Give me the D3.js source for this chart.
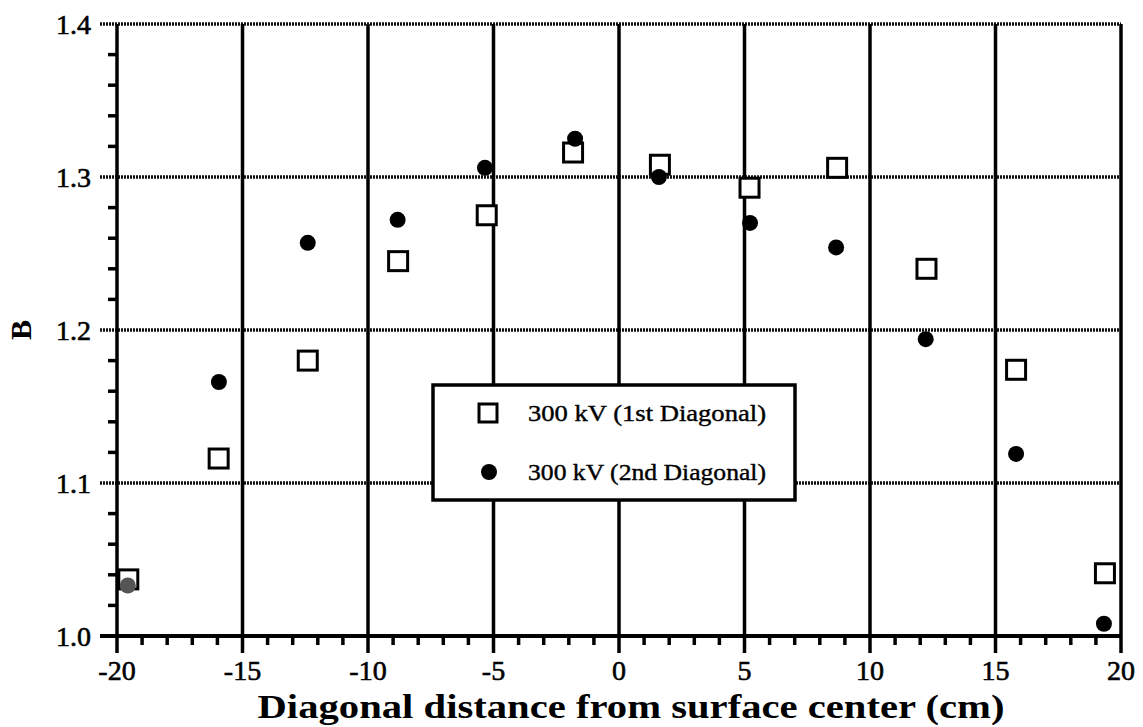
<!DOCTYPE html>
<html>
<head>
<meta charset="utf-8">
<script src="https://cdn.jsdelivr.net/npm/d3@7"></script>
<style>
  body { margin: 0; background: #fff; }
  svg text { font-family: "Liberation Serif", "Times New Roman", Times, serif; }
</style>
</head>
<body>
<div id="chart"></div>
<script>
const xTicks = [-20, -15, -10, -5, 0, 5, 10, 15, 20]
const yTicks = [1.0, 1.1, 1.2, 1.3, 1.4]

// 300 kV (1st Diagonal)
const diag1X = [-19.55, -15.95, -12.4, -8.8, -5.27, -1.83, 1.63, 5.2, 8.69, 12.25, 15.82, 19.36]
const diag1B = [1.037, 1.116, 1.180, 1.245, 1.275, 1.316, 1.308, 1.293, 1.306, 1.240, 1.174, 1.041]

// 300 kV (2nd Diagonal)
const diag2X = [-19.57, -15.94, -12.4, -8.82, -5.34, -1.75, 1.59, 5.22, 8.65, 12.22, 15.82, 19.32]
const diag2B = [1.033, 1.166, 1.257, 1.272, 1.306, 1.325, 1.300, 1.270, 1.254, 1.194, 1.119, 1.008]

const legendLabels = ['300 kV (1st Diagonal)', '300 kV (2nd Diagonal)']

const width = 1143, height = 727
const chart = {left: 117, right: 1121, top: 24, bottom: 636}
const serif = 'Liberation Serif, Times New Roman, Times, serif'

const svg = d3.select('#chart').append('svg')
  .attr('width', width)
  .attr('height', height)

const x = d3.scaleLinear().domain([-20, 20]).range([chart.left, chart.right])
const y = d3.scaleLinear().domain([1.0, 1.4]).range([chart.bottom, chart.top])

const minorX = d3.range(-20, 21, 1).filter(v => v % 5 !== 0)
const minorY = d3.range(0, 41, 2).map(v => 1 + v / 100).filter((v, i) => i % 5 !== 0)

// horizontal grid (dotted look)
svg.append('g')
  .selectAll('line')
  .data(yTicks)
  .enter()
    .append('line')
    .attr('x1', chart.left - 17)
    .attr('x2', chart.right)
    .attr('y1', d => y(d))
    .attr('y2', d => y(d))
    .attr('stroke', '#111')
    .attr('stroke-width', 3.5)
    .attr('stroke-dasharray', '2,1')

// vertical grid
svg.append('g')
  .selectAll('line')
  .data(xTicks)
  .enter()
    .append('line')
    .attr('x1', d => x(d))
    .attr('x2', d => x(d))
    .attr('y1', chart.top)
    .attr('y2', chart.bottom + 17)
    .attr('stroke', '#000')
    .attr('stroke-width', 3.5)

// bottom axis line
svg.append('line')
  .attr('x1', chart.left - 17).attr('x2', chart.right)
  .attr('y1', chart.bottom).attr('y2', chart.bottom)
  .attr('stroke', '#000').attr('stroke-width', 4)

// minor ticks
svg.append('g')
  .selectAll('line')
  .data(minorX)
  .enter()
    .append('line')
    .attr('x1', d => x(d))
    .attr('x2', d => x(d))
    .attr('y1', chart.bottom)
    .attr('y2', chart.bottom + 9)
    .attr('stroke', '#000')
    .attr('stroke-width', 3.5)

svg.append('g')
  .selectAll('line')
  .data(minorY)
  .enter()
    .append('line')
    .attr('x1', chart.left - 9)
    .attr('x2', chart.left)
    .attr('y1', d => y(d))
    .attr('y2', d => y(d))
    .attr('stroke', '#000')
    .attr('stroke-width', 3.5)

// tick labels
svg.append('g')
  .selectAll('text')
  .data(xTicks)
  .enter()
    .append('text')
    .attr('x', d => x(d))
    .attr('y', chart.bottom + 44)
    .attr('text-anchor', 'middle')
    .attr('font-family', serif)
    .attr('font-size', 28)
    .attr('stroke', '#000')
    .attr('stroke-width', 0.6)
    .text(d => d)

svg.append('g')
  .selectAll('text')
  .data(yTicks)
  .enter()
    .append('text')
    .attr('x', chart.left - 26)
    .attr('y', d => y(d) + 10)
    .attr('text-anchor', 'end')
    .attr('font-family', serif)
    .attr('font-size', 28)
    .attr('stroke', '#000')
    .attr('stroke-width', 0.6)
    .text(d => d.toFixed(1))

// axis titles
svg.append('text')
  .attr('x', 631)
  .attr('y', 718)
  .attr('text-anchor', 'middle')
  .attr('font-family', serif)
  .attr('font-size', 33)
  .attr('font-weight', 'bold')
  .attr('textLength', 747)
  .attr('lengthAdjust', 'spacingAndGlyphs')
  .text('Diagonal distance from surface center (cm)')

svg.append('text')
  .attr('transform', 'translate(31,330) rotate(-90)')
  .attr('text-anchor', 'middle')
  .attr('font-family', serif)
  .attr('font-size', 30)
  .attr('font-weight', 'bold')
  .text('B')

// data points
const sq = 19
svg.append('g')
  .selectAll('rect')
  .data(diag1X.map((v, i) => ({x: v, b: diag1B[i]})))
  .enter()
    .append('rect')
    .attr('x', d => x(d.x) - sq / 2)
    .attr('y', d => y(d.b) - sq / 2)
    .attr('width', sq)
    .attr('height', sq)
    .attr('fill', '#fff')
    .attr('stroke', '#000')
    .attr('stroke-width', 3)

svg.append('g')
  .selectAll('circle')
  .data(diag2X.map((v, i) => ({x: v, b: diag2B[i]})))
  .enter()
    .append('circle')
    .attr('cx', d => x(d.x))
    .attr('cy', d => y(d.b))
    .attr('r', 8)
    .attr('fill', (d, i) => i === 0 ? '#555' : '#000')

// legend
const legend = svg.append('g')
legend.append('rect')
  .attr('x', 433).attr('y', 385)
  .attr('width', 362).attr('height', 115)
  .attr('fill', '#fff')
  .attr('stroke', '#000')
  .attr('stroke-width', 3.5)

legend.append('rect')
  .attr('x', 479).attr('y', 404)
  .attr('width', 18).attr('height', 18)
  .attr('fill', '#fff').attr('stroke', '#000').attr('stroke-width', 3)
legend.append('circle')
  .attr('cx', 489).attr('cy', 472).attr('r', 8)
  .attr('fill', '#000')

legend.selectAll('text')
  .data(legendLabels)
  .enter()
    .append('text')
    .attr('x', 528)
    .attr('y', (d, i) => 421 + i * 59)
    .attr('font-family', serif)
    .attr('font-size', 23)
    .attr('textLength', 238)
    .attr('lengthAdjust', 'spacingAndGlyphs')
    .attr('stroke', '#000')
    .attr('stroke-width', 0.4)
    .text(d => d)
</script>
</body>
</html>
